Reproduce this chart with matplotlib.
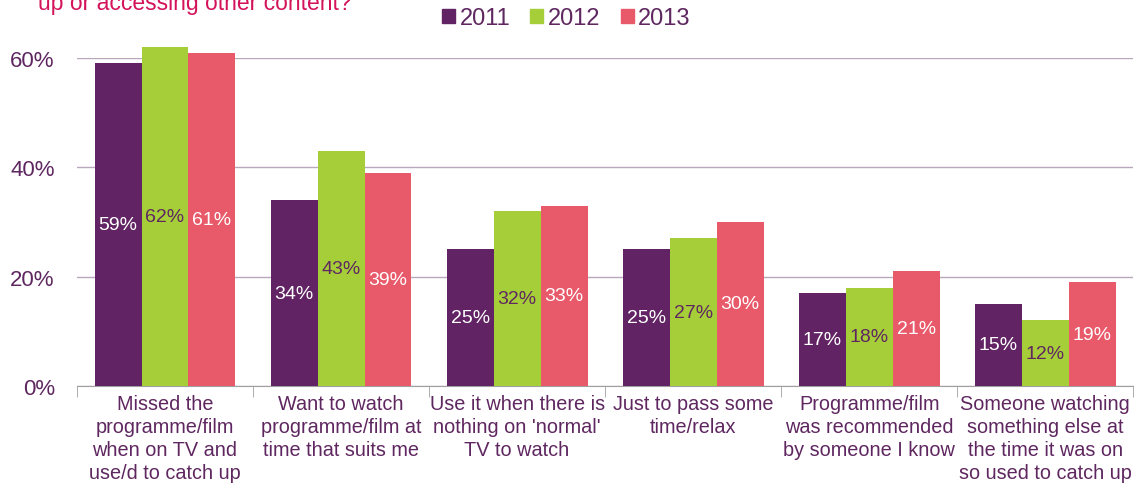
import numpy as np
import matplotlib.pyplot as plt
from matplotlib.patches import Patch

plt.rcParams['font.family'] = ['Liberation Sans', 'DejaVu Sans']

categories = ['Missed the\nprogramme/film\nwhen on TV and\nuse/d to catch up',
              'Want to watch\nprogramme/film at\ntime that suits me',
              "Use it when there is\nnothing on 'normal'\nTV to watch",
              'Just to pass some\ntime/relax',
              'Programme/film\nwas recommended\nby someone I know',
              'Someone watching\nsomething else at\nthe time it was on\nso used to catch up']
years = ['2011', '2012', '2013']
v2011 = [59, 34, 25, 25, 17, 15]
v2012 = [62, 43, 32, 27, 18, 12]
v2013 = [61, 39, 33, 30, 21, 19]

colors = ['#612363', '#a6ce39', '#e8596a']
label_colors = ['white', '#5f2760', 'white']
txt = '#5f2760'

fig = plt.figure(figsize=(11.37, 4.89), dpi=100)
ax = fig.add_axes([0.0677, 0.2086, 0.929, 0.6708])

x = np.arange(len(categories))
w = 0.8 / 3
for i, vals in enumerate([v2011, v2012, v2013]):
    pos = x + (i - 1) * w
    ax.bar(pos, vals, w, color=colors[i], clip_on=False, zorder=3)
    for p, v in zip(pos, vals):
        ax.text(p, v / 2, f'{v}%', ha='center', va='center', fontsize=14,
                color=label_colors[i], zorder=4)

ax.set_xlim(-0.5, len(categories) - 0.5)
ax.set_ylim(0, 60)
ax.set_yticks([0, 20, 40, 60])
ax.set_yticklabels(['0%', '20%', '40%', '60%'], fontsize=16, color=txt)
ax.yaxis.grid(True, color='#b8a8bc', linewidth=1, zorder=0)
ax.tick_params(axis='y', length=0, pad=16)

ax.set_xticks(x)
ax.set_xticklabels(categories, fontsize=14.3, color=txt, linespacing=1.27)
ax.tick_params(axis='x', length=0, pad=6)
ax.set_xticks(np.arange(-0.5, len(categories)), minor=True)
ax.tick_params(axis='x', which='minor', length=8, color='#a0a0a0')

for s in ['top', 'right', 'left']:
    ax.spines[s].set_visible(False)
ax.spines['bottom'].set_color('#a0a0a0')

handles = [Patch(color=c) for c in colors]
fig.legend(handles, years, loc='center', bbox_to_anchor=(0.498, 0.961), ncol=3,
           frameon=False, fontsize=17, handlelength=0.55, handleheight=0.55,
           handletextpad=0.2, columnspacing=0.85, labelcolor=txt,
           borderpad=0, borderaxespad=0)

fig.text(0.033, 1 - 10 / 489, 'up or accessing other content?', fontsize=16.5,
         color='#d4145a', va='baseline')

fig.savefig('out.png', dpi=100)
